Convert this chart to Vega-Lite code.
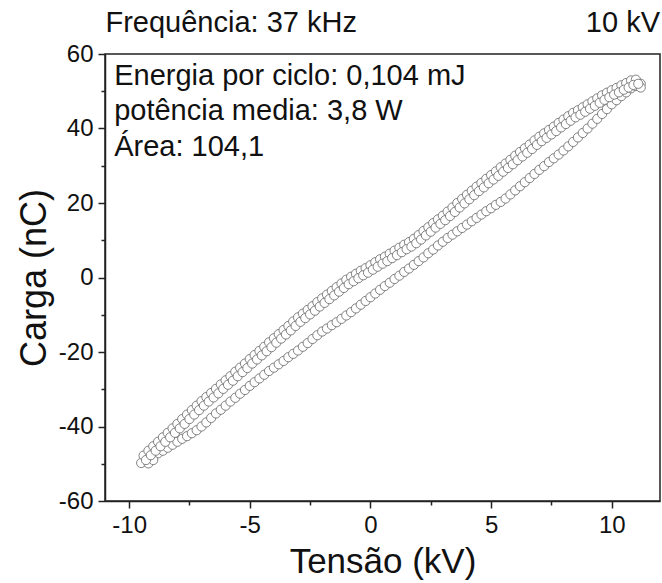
{
  "$schema": "https://vega.github.io/schema/vega-lite/v6.json",
  "width": 555,
  "height": 447,
  "autosize": {"type": "none"},
  "padding": {"left": 105, "top": 54, "right": 2, "bottom": 82},
  "background": "white",
  "config": {
    "view": {"stroke": "#222", "strokeWidth": 1.5},
    "font": "Liberation Sans"
  },
  "data": {"values": [
    {"v":-9.4,"q":-49.4},{"v":-9.2,"q":-48.7},{"v":-9.0,"q":-48.0},{"v":-8.8,"q":-47.2},{"v":-8.6,"q":-46.5},{"v":-8.4,"q":-45.7},{"v":-8.2,"q":-44.9},{"v":-8.0,"q":-44.1},{"v":-7.8,"q":-43.3},{"v":-7.6,"q":-42.6},{"v":-7.4,"q":-41.8},{"v":-7.2,"q":-41.0},{"v":-7.0,"q":-40.0},{"v":-6.8,"q":-38.9},{"v":-6.6,"q":-37.7},{"v":-6.4,"q":-36.5},{"v":-6.2,"q":-35.5},{"v":-6.0,"q":-34.4},{"v":-5.8,"q":-33.3},{"v":-5.6,"q":-32.3},{"v":-5.4,"q":-31.2},{"v":-5.2,"q":-30.2},{"v":-5.0,"q":-29.1},{"v":-4.8,"q":-28.1},{"v":-4.6,"q":-27.1},{"v":-4.4,"q":-26.1},{"v":-4.2,"q":-25.1},{"v":-4.0,"q":-24.2},{"v":-3.8,"q":-23.3},{"v":-3.6,"q":-22.4},{"v":-3.4,"q":-21.4},{"v":-3.2,"q":-20.5},{"v":-3.0,"q":-19.6},{"v":-2.8,"q":-18.6},{"v":-2.6,"q":-17.6},{"v":-2.4,"q":-16.5},{"v":-2.2,"q":-15.5},{"v":-2.0,"q":-14.5},{"v":-1.8,"q":-13.7},{"v":-1.6,"q":-12.8},{"v":-1.4,"q":-12.0},{"v":-1.2,"q":-11.1},{"v":-1.0,"q":-10.2},{"v":-0.8,"q":-9.3},{"v":-0.6,"q":-8.3},{"v":-0.4,"q":-7.3},{"v":-0.2,"q":-6.3},{"v":0.0,"q":-5.3},{"v":0.2,"q":-4.3},{"v":0.4,"q":-3.3},{"v":0.6,"q":-2.3},{"v":0.8,"q":-1.4},{"v":1.0,"q":-0.4},{"v":1.2,"q":0.5},{"v":1.4,"q":1.5},{"v":1.6,"q":2.4},{"v":1.8,"q":3.4},{"v":2.0,"q":4.4},{"v":2.2,"q":5.4},{"v":2.4,"q":6.5},{"v":2.6,"q":7.5},{"v":2.8,"q":8.6},{"v":3.0,"q":9.6},{"v":3.2,"q":10.6},{"v":3.4,"q":11.5},{"v":3.6,"q":12.4},{"v":3.8,"q":13.3},{"v":4.0,"q":14.2},{"v":4.2,"q":15.1},{"v":4.4,"q":16.0},{"v":4.6,"q":16.9},{"v":4.8,"q":17.8},{"v":5.0,"q":18.6},{"v":5.2,"q":19.5},{"v":5.4,"q":20.3},{"v":5.6,"q":21.2},{"v":5.8,"q":22.3},{"v":6.0,"q":23.4},{"v":6.2,"q":24.5},{"v":6.4,"q":25.6},{"v":6.6,"q":26.7},{"v":6.8,"q":27.8},{"v":7.0,"q":28.9},{"v":7.2,"q":29.9},{"v":7.4,"q":31.0},{"v":7.6,"q":32.0},{"v":7.8,"q":33.0},{"v":8.0,"q":34.1},{"v":8.2,"q":35.2},{"v":8.4,"q":36.4},{"v":8.6,"q":37.6},{"v":8.8,"q":38.8},{"v":9.0,"q":40.0},{"v":9.2,"q":41.3},{"v":9.4,"q":42.6},{"v":9.6,"q":43.9},{"v":9.8,"q":45.2},{"v":10.0,"q":46.5},{"v":10.2,"q":47.6},{"v":10.4,"q":48.7},{"v":10.6,"q":49.7},{"v":10.8,"q":50.8},{"v":11.0,"q":51.4},{"v":11.2,"q":52.0},
    {"v":11.2,"q":51.0},{"v":10.9,"q":51.9},{"v":-9.5,"q":-49.8},{"v":-9.2,"q":-49.9},{"v":-9.0,"q":-49.0},
    {"v":-9.4,"q":-47.8},{"v":-9.2,"q":-46.5},{"v":-9.0,"q":-45.3},{"v":-8.8,"q":-44.1},{"v":-8.6,"q":-42.9},{"v":-8.4,"q":-41.7},{"v":-8.2,"q":-40.5},{"v":-8.0,"q":-39.3},{"v":-7.8,"q":-38.0},{"v":-7.6,"q":-36.8},{"v":-7.4,"q":-35.6},{"v":-7.2,"q":-34.4},{"v":-7.0,"q":-33.2},{"v":-6.8,"q":-32.1},{"v":-6.6,"q":-31.0},{"v":-6.4,"q":-29.9},{"v":-6.2,"q":-28.7},{"v":-6.0,"q":-27.6},{"v":-5.8,"q":-26.5},{"v":-5.6,"q":-25.3},{"v":-5.4,"q":-24.2},{"v":-5.2,"q":-23.1},{"v":-5.0,"q":-21.9},{"v":-4.8,"q":-20.8},{"v":-4.6,"q":-19.7},{"v":-4.4,"q":-18.6},{"v":-4.2,"q":-17.4},{"v":-4.0,"q":-16.3},{"v":-3.8,"q":-15.2},{"v":-3.6,"q":-14.1},{"v":-3.4,"q":-13.0},{"v":-3.2,"q":-11.8},{"v":-3.0,"q":-10.7},{"v":-2.8,"q":-9.7},{"v":-2.6,"q":-8.7},{"v":-2.4,"q":-7.7},{"v":-2.2,"q":-6.6},{"v":-2.0,"q":-5.6},{"v":-1.8,"q":-4.6},{"v":-1.6,"q":-3.6},{"v":-1.4,"q":-2.6},{"v":-1.2,"q":-1.6},{"v":-1.0,"q":-0.6},{"v":-0.8,"q":0.2},{"v":-0.6,"q":1.0},{"v":-0.4,"q":1.8},{"v":-0.2,"q":2.5},{"v":0.0,"q":3.3},{"v":0.2,"q":4.1},{"v":0.4,"q":4.9},{"v":0.6,"q":5.6},{"v":0.8,"q":6.4},{"v":1.0,"q":7.2},{"v":1.2,"q":8.0},{"v":1.4,"q":8.8},{"v":1.6,"q":9.5},{"v":1.8,"q":10.4},{"v":2.0,"q":11.4},{"v":2.2,"q":12.5},{"v":2.4,"q":13.5},{"v":2.6,"q":14.6},{"v":2.8,"q":15.6},{"v":3.0,"q":16.6},{"v":3.2,"q":17.7},{"v":3.4,"q":18.8},{"v":3.6,"q":20.0},{"v":3.8,"q":21.1},{"v":4.0,"q":22.2},{"v":4.2,"q":23.3},{"v":4.4,"q":24.4},{"v":4.6,"q":25.4},{"v":4.8,"q":26.5},{"v":5.0,"q":27.5},{"v":5.2,"q":28.5},{"v":5.4,"q":29.6},{"v":5.6,"q":30.6},{"v":5.8,"q":31.6},{"v":6.0,"q":32.7},{"v":6.2,"q":33.7},{"v":6.4,"q":34.7},{"v":6.6,"q":35.7},{"v":6.8,"q":36.8},{"v":7.0,"q":37.8},{"v":7.2,"q":38.7},{"v":7.4,"q":39.6},{"v":7.6,"q":40.5},{"v":7.8,"q":41.5},{"v":8.0,"q":42.4},{"v":8.2,"q":43.3},{"v":8.4,"q":44.2},{"v":8.6,"q":44.9},{"v":8.8,"q":45.7},{"v":9.0,"q":46.5},{"v":9.2,"q":47.3},{"v":9.4,"q":48.1},{"v":9.6,"q":48.9},{"v":9.8,"q":49.6},{"v":10.0,"q":50.3},{"v":10.2,"q":50.9},{"v":10.4,"q":51.6},{"v":10.6,"q":52.2},{"v":10.8,"q":52.9},{"v":11.0,"q":53.1},
    {"v":-9.3,"q":-49.0},{"v":-9.1,"q":-47.7},{"v":-8.9,"q":-46.5},{"v":-8.7,"q":-45.3},{"v":-8.5,"q":-44.1},{"v":-8.3,"q":-42.9},{"v":-8.1,"q":-41.7},{"v":-7.9,"q":-40.5},{"v":-7.7,"q":-39.3},{"v":-7.5,"q":-38.0},{"v":-7.3,"q":-36.8},{"v":-7.1,"q":-35.6},{"v":-6.9,"q":-34.4},{"v":-6.7,"q":-33.3},{"v":-6.5,"q":-32.2},{"v":-6.3,"q":-31.1},{"v":-6.1,"q":-29.9},{"v":-5.9,"q":-28.8},{"v":-5.7,"q":-27.7},{"v":-5.5,"q":-26.5},{"v":-5.3,"q":-25.4},{"v":-5.1,"q":-24.3},{"v":-4.9,"q":-23.1},{"v":-4.7,"q":-22.0},{"v":-4.5,"q":-20.9},{"v":-4.3,"q":-19.8},{"v":-4.1,"q":-18.7},{"v":-3.9,"q":-17.5},{"v":-3.7,"q":-16.4},{"v":-3.5,"q":-15.3},{"v":-3.3,"q":-14.2},{"v":-3.1,"q":-13.0},{"v":-2.9,"q":-11.9},{"v":-2.7,"q":-10.9},{"v":-2.5,"q":-9.9},{"v":-2.3,"q":-8.9},{"v":-2.1,"q":-7.8},{"v":-1.9,"q":-6.8},{"v":-1.7,"q":-5.8},{"v":-1.5,"q":-4.8},{"v":-1.3,"q":-3.8},{"v":-1.1,"q":-2.8},{"v":-0.9,"q":-1.8},{"v":-0.7,"q":-1.0},{"v":-0.5,"q":-0.2},{"v":-0.3,"q":0.6},{"v":-0.1,"q":1.3},{"v":0.1,"q":2.1},{"v":0.3,"q":2.9},{"v":0.5,"q":3.7},{"v":0.7,"q":4.4},{"v":0.9,"q":5.2},{"v":1.1,"q":6.0},{"v":1.3,"q":6.8},{"v":1.5,"q":7.6},{"v":1.7,"q":8.3},{"v":1.9,"q":9.2},{"v":2.1,"q":10.2},{"v":2.3,"q":11.3},{"v":2.5,"q":12.3},{"v":2.7,"q":13.4},{"v":2.9,"q":14.4},{"v":3.1,"q":15.4},{"v":3.3,"q":16.5},{"v":3.5,"q":17.6},{"v":3.7,"q":18.8},{"v":3.9,"q":19.9},{"v":4.1,"q":21.0},{"v":4.3,"q":22.1},{"v":4.5,"q":23.2},{"v":4.7,"q":24.2},{"v":4.9,"q":25.3},{"v":5.1,"q":26.3},{"v":5.3,"q":27.3},{"v":5.5,"q":28.4},{"v":5.7,"q":29.4},{"v":5.9,"q":30.4},{"v":6.1,"q":31.5},{"v":6.3,"q":32.5},{"v":6.5,"q":33.5},{"v":6.7,"q":34.5},{"v":6.9,"q":35.6},{"v":7.1,"q":36.6},{"v":7.3,"q":37.5},{"v":7.5,"q":38.4},{"v":7.7,"q":39.3},{"v":7.9,"q":40.3},{"v":8.1,"q":41.2},{"v":8.3,"q":42.1},{"v":8.5,"q":43.0},{"v":8.7,"q":43.7},{"v":8.9,"q":44.5},{"v":9.1,"q":45.3},{"v":9.3,"q":46.1},{"v":9.5,"q":46.9},{"v":9.7,"q":47.7},{"v":9.9,"q":48.4},{"v":10.1,"q":49.1},{"v":10.3,"q":49.7},{"v":10.5,"q":50.4},{"v":10.7,"q":51.0},{"v":10.9,"q":51.7},{"v":11.1,"q":52.0}
  ]},
  "resolve": {"axis": {"x": "independent", "y": "independent"}},
  "layer": [
    {
      "mark": {"type": "point", "shape": "circle", "size": 85, "filled": false, "fill": "white", "stroke": "#747474", "strokeWidth": 0.9, "opacity": 1},
      "encoding": {
        "x": {"field": "v", "type": "quantitative", "scale": {"domain": [-11, 12], "nice": false, "zero": false},
          "axis": {"orient": "bottom", "values": [-10, -5, 0, 5, 10], "labelExpr": "toString(datum.value)", "title": "Tensão (kV)", "grid": false,
            "tickSize": 7, "tickWidth": 1.5, "tickColor": "#222", "domainColor": "#222", "domainWidth": 1.5,
            "labelFont": "Liberation Sans", "labelFontSize": 24, "labelColor": "#111", "labelPadding": 5,
            "titleFont": "Liberation Sans", "titleFontSize": 35, "titleFontWeight": "normal", "titleColor": "#111", "titlePadding": 7}},
        "y": {"field": "q", "type": "quantitative", "scale": {"domain": [-60, 60], "nice": false, "zero": false},
          "axis": {"orient": "left", "values": [-60, -40, -20, 0, 20, 40, 60], "labelExpr": "toString(datum.value)", "title": "Carga (nC)", "grid": false,
            "tickSize": 7, "tickWidth": 1.5, "tickColor": "#222", "domainColor": "#222", "domainWidth": 1.5,
            "labelFont": "Liberation Sans", "labelFontSize": 24, "labelColor": "#111", "labelPadding": 5,
            "titleFont": "Liberation Sans", "titleFontSize": 36, "titleFontWeight": "normal", "titleColor": "#111", "titlePadding": 5}}
      }
    },
    {
      "data": {"values": [{}]},
      "mark": {"type": "text", "align": "left", "baseline": "alphabetic", "fontSize": 29, "lineHeight": 35.5, "color": "#111", "font": "Liberation Sans"},
      "encoding": {
        "x": {"datum": -10.62, "type": "quantitative", "scale": {"domain": [-11, 12], "nice": false, "zero": false},
          "axis": {"orient": "bottom", "values": [-7.5, -2.5, 2.5, 7.5], "labels": false, "domain": false, "title": null, "grid": false, "tickSize": 4, "tickWidth": 1.5, "tickColor": "#222"}},
        "y": {"datum": 51.7, "type": "quantitative", "scale": {"domain": [-60, 60], "nice": false, "zero": false},
          "axis": {"orient": "left", "values": [-50, -30, -10, 10, 30, 50], "labels": false, "domain": false, "title": null, "grid": false, "tickSize": 4, "tickWidth": 1.5, "tickColor": "#222"}},
        "text": {"value": ["Energia por ciclo: 0,104 mJ", "potência media: 3,8 W", "Área: 104,1"]}
      }
    },
    {
      "data": {"values": [{}]},
      "mark": {"type": "text", "align": "left", "baseline": "alphabetic", "fontSize": 29, "color": "#111", "font": "Liberation Sans"},
      "encoding": {
        "x": {"datum": -10.98, "type": "quantitative", "axis": null},
        "y": {"datum": 65.9, "type": "quantitative", "axis": null},
        "text": {"value": "Frequência: 37 kHz"}
      }
    },
    {
      "data": {"values": [{}]},
      "mark": {"type": "text", "align": "right", "baseline": "alphabetic", "fontSize": 29, "color": "#111", "font": "Liberation Sans"},
      "encoding": {
        "x": {"datum": 12, "type": "quantitative", "axis": null},
        "y": {"datum": 65.9, "type": "quantitative", "axis": null},
        "text": {"value": "10 kV"}
      }
    }
  ]
}
